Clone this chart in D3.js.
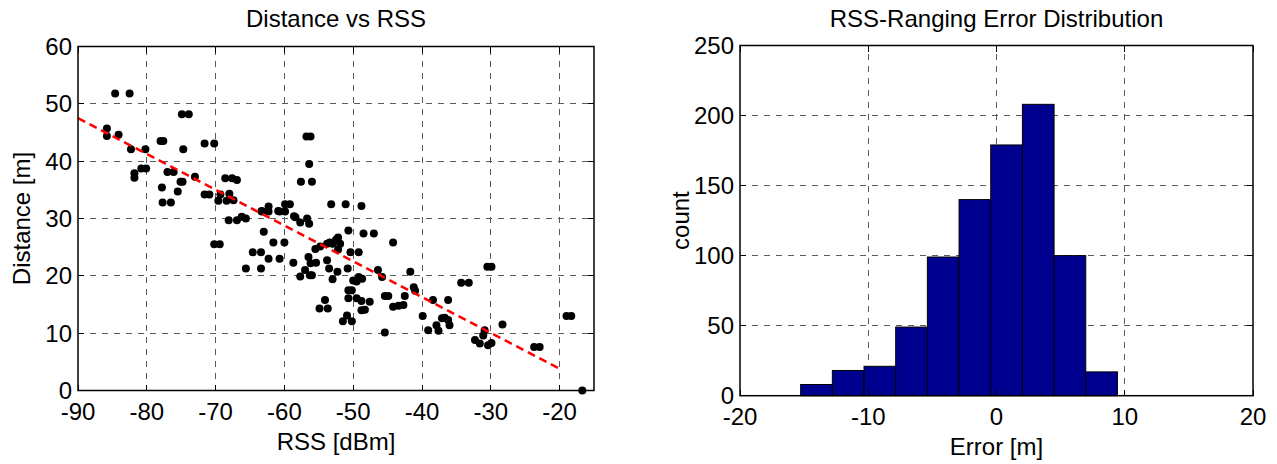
<!DOCTYPE html>
<html>
<head>
<meta charset="utf-8">
<script src="https://cdn.jsdelivr.net/npm/d3@7"></script>
<style>
  body { margin: 0; background: #fff; }
  text { font-family: "Liberation Sans", Arial, sans-serif; fill: #000; }
</style>
</head>
<body>
<svg id="fig" width="1277" height="464"></svg>
<script>
// scatter: RSS [dBm] vs distance [m]
var rss = [-84.6, -82.5, -85.8, -85.8, -84.1, -82.3, -80.2, -81.8, -81.8, -80.8, -80.1,
  -78.0, -77.6, -74.9, -73.9, -74.7, -71.6, -70.2, -77.8, -77.7, -76.5, -77.0, -76.1,
  -75.5, -75.1, -74.8, -73.0, -71.6, -70.9, -69.3, -69.6, -68.4, -68.6, -67.6, -66.9,
  -68.0, -67.4, -70.2, -69.4, -68.1, -66.9, -66.2, -65.6, -63.3, -62.3, -60.7, -59.9,
  -58.4, -57.7, -56.7, -56.4, -63.0, -61.6, -60.0, -64.6, -63.4, -62.3, -60.7, -58.7,
  -65.6, -63.4, -57.7, -57.0, -56.3, -56.2, -56.5, -55.4, -56.0, -55.5, -54.8, -53.8,
  -53.4, -53.0, -52.5, -52.2, -51.9, -52.2, -53.8, -53.5, -53.0, -52.3, -50.7, -50.4,
  -49.2, -50.8, -50.0, -49.2, -48.7, -49.5, -48.5, -47.0, -50.7, -50.2, -50.7, -49.5,
  -48.8, -47.6, -48.8, -48.3, -54.1, -54.9, -53.7, -51.5, -50.9, -50.2, -45.4, -46.4,
  -45.8, -45.4, -44.9, -44.2, -44.2, -43.4, -42.7, -41.7, -41.2, -41.0, -42.5, -39.9,
  -38.4, -36.2, -39.1, -37.9, -37.6, -37.1, -36.7, -36.2, -36.0, -34.3, -33.2, -30.5,
  -29.9, -32.3, -31.6, -30.9, -31.1, -30.4, -29.9, -28.3, -23.7, -22.9, -19.0, -18.3,
  -16.7, -56.8, -56.2, -56.4, -57.6, -56.0, -63.3, -62.3, -60.9, -59.9, -59.2, -58.6,
  -53.2, -51.1, -48.8];
var dist = [51.8, 51.8, 45.7, 44.4, 44.6, 42.1, 42.1, 37.9, 37.1, 38.7, 38.7,
  43.5, 43.5, 48.2, 48.2, 42.1, 43.1, 43.1, 35.4, 32.8, 32.8, 38.1, 38.1,
  34.7, 36.4, 36.4, 37.3, 34.2, 34.2, 34.2, 33.1, 33.1, 37.0, 37.0, 36.7,
  34.3, 33.2, 25.5, 25.5, 29.7, 29.7, 30.3, 30.0, 31.2, 31.2, 31.2, 31.2,
  30.2, 29.3, 30.0, 29.1, 27.7, 25.8, 25.8, 24.1, 24.1, 23.0, 23.0, 22.3,
  21.3, 21.3, 19.9, 21.0, 20.1, 22.2, 23.3, 22.3, 20.1, 24.7, 25.1, 25.6,
  25.8, 25.6, 26.3, 26.7, 25.6, 24.6, 22.7, 21.3, 19.4, 20.7, 27.9, 24.1,
  24.1, 21.3, 19.2, 19.8, 19.5, 19.0, 27.4, 27.4, 17.5, 17.5, 16.1, 16.1,
  15.6, 15.5, 14.0, 14.1, 15.8, 14.3, 14.3, 12.1, 13.1, 12.1, 10.1, 21.0,
  19.8, 16.5, 16.5, 25.8, 14.6, 14.8, 14.9, 20.7, 18.0, 17.4, 16.5, 13.0,
  15.8, 15.8, 10.5, 11.4, 10.4, 12.6, 12.7, 12.3, 11.4, 18.8, 18.8, 21.6,
  21.6, 8.8, 8.2, 10.5, 9.6, 7.9, 8.3, 11.5, 7.6, 7.6, 13.0, 13.0,
  0.0, 44.3, 44.3, 39.5, 36.4, 36.4, 31.3, 32.1, 31.3, 32.5, 32.5, 30.4,
  32.5, 32.5, 32.2];
// least-squares fit line end points
var fitRss = [-90, -20];
var fitDist = [47.5, 3.8];

// histogram of ranging error
var binEdges = [-15.27, -12.8, -10.33, -7.86, -5.39, -2.92, -0.45, 2.02, 4.49, 6.96, 9.43];
var counts = [8, 18, 21, 49, 99, 140, 179, 208, 100, 17];

var rssTicks = [-90, -80, -70, -60, -50, -40, -30, -20];
var distTicks = [0, 10, 20, 30, 40, 50, 60];
var errTicks = [-20, -10, 0, 10, 20];
var countTicks = [0, 50, 100, 150, 200, 250];

var svg = d3.select('#fig');
var fs = 24;

// dashed grid inside the box (lines on the box edges are skipped)
function drawAxes(x, y, xt, yt) {
  var g = svg.append('g');
  var x0 = x.range()[0], x1 = x.range()[1];
  var y0 = y.range()[0], y1 = y.range()[1];
  var grid = g.append('g').attr('stroke', '#5a5a5a').attr('stroke-width', 1)
    .attr('stroke-dasharray', '6,6').attr('shape-rendering', 'crispEdges');
  xt.forEach(function (t) {
    if (Math.abs(x(t) - x0) < 1 || Math.abs(x(t) - x1) < 1) return;
    grid.append('line').attr('x1', x(t)).attr('x2', x(t)).attr('y1', y0).attr('y2', y1);
  });
  yt.forEach(function (t) {
    if (Math.abs(y(t) - y0) < 1 || Math.abs(y(t) - y1) < 1) return;
    grid.append('line').attr('y1', y(t)).attr('y2', y(t)).attr('x1', x0).attr('x2', x1);
  });
  return g;
}

// box, inward ticks on all four sides, tick labels
function finishAxes(g, x, y, xt, yt) {
  var x0 = x.range()[0], x1 = x.range()[1];
  var y0 = y.range()[0], y1 = y.range()[1];
  var tl = 6;
  var tk = g.append('g').attr('stroke', '#000').attr('stroke-width', 1).attr('shape-rendering', 'crispEdges');
  xt.forEach(function (t) {
    tk.append('line').attr('x1', x(t)).attr('x2', x(t)).attr('y1', y0).attr('y2', y0 - tl);
    tk.append('line').attr('x1', x(t)).attr('x2', x(t)).attr('y1', y1).attr('y2', y1 + tl);
    g.append('text').attr('x', x(t)).attr('y', y0 + 29.5).attr('text-anchor', 'middle')
      .style('font-size', fs + 'px').text(t);
  });
  yt.forEach(function (t) {
    tk.append('line').attr('y1', y(t)).attr('y2', y(t)).attr('x1', x0).attr('x2', x0 + tl);
    tk.append('line').attr('y1', y(t)).attr('y2', y(t)).attr('x1', x1).attr('x2', x1 - tl);
    g.append('text').attr('x', x0 - 6).attr('y', y(t) + 8.5).attr('text-anchor', 'end')
      .style('font-size', fs + 'px').text(t);
  });
  g.append('rect').attr('x', x0).attr('y', y1).attr('width', x1 - x0).attr('height', y0 - y1)
    .attr('fill', 'none').attr('stroke', '#000').attr('stroke-width', 1.5);
}

function labels(x, y, title, xl, yl, ylx) {
  var cx = (x.range()[0] + x.range()[1]) / 2;
  var cy = (y.range()[0] + y.range()[1]) / 2;
  svg.append('text').attr('x', cx).attr('y', 27).attr('text-anchor', 'middle')
    .style('font-size', fs + 'px').text(title);
  svg.append('text').attr('x', cx).attr('y', y.range()[0] + 59.5).attr('text-anchor', 'middle')
    .style('font-size', fs + 'px').text(xl);
  svg.append('text').attr('transform', 'translate(' + ylx + ',' + cy + ') rotate(-90)')
    .attr('text-anchor', 'middle').style('font-size', fs + 'px').text(yl);
}

// ---- left: Distance vs RSS ----
var xL = d3.scaleLinear().domain([-90, -15]).range([78, 594]);
var yL = d3.scaleLinear().domain([0, 60]).range([390.5, 46.5]);
var gL = drawAxes(xL, yL, rssTicks, distTicks);

gL.append('g').selectAll('circle').data(rss).enter().append('circle')
  .attr('cx', function (d) { return xL(d); })
  .attr('cy', function (d, i) { return yL(dist[i]); })
  .attr('r', 4).attr('fill', '#000');

gL.append('path').datum(fitRss)
  .attr('d', d3.line().x(function (d) { return xL(d); }).y(function (d, i) { return yL(fitDist[i]); }))
  .attr('fill', 'none').attr('stroke', '#ff0000').attr('stroke-width', 2.5).attr('stroke-dasharray', '8,5');

finishAxes(gL, xL, yL, rssTicks, distTicks);
labels(xL, yL, 'Distance vs RSS', 'RSS [dBm]', 'Distance [m]', 30);

// ---- right: histogram ----
var xR = d3.scaleLinear().domain([-20, 20]).range([740, 1253]);
var yR = d3.scaleLinear().domain([0, 250]).range([395.7, 45.5]);
var gR = drawAxes(xR, yR, errTicks, countTicks);

gR.append('g').selectAll('rect').data(counts).enter().append('rect')
  .attr('x', function (d, i) { return xR(binEdges[i]); })
  .attr('width', function (d, i) { return xR(binEdges[i + 1]) - xR(binEdges[i]); })
  .attr('y', function (d) { return yR(d); })
  .attr('height', function (d) { return yR(0) - yR(d); })
  .attr('fill', '#00008f').attr('stroke', '#000').attr('stroke-width', 1);

finishAxes(gR, xR, yR, errTicks, countTicks);
labels(xR, yR, 'RSS-Ranging Error Distribution', 'Error [m]', 'count', 689);
</script>
</body>
</html>
